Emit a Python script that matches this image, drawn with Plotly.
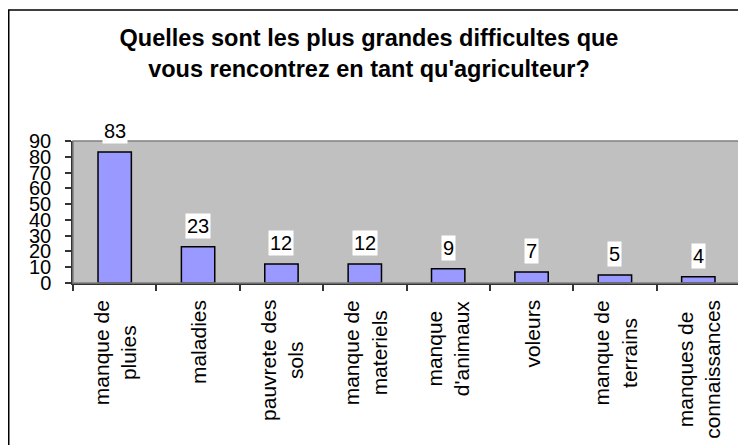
import plotly.graph_objects as go

categories = ["manque de pluies", "maladies", "pauvrete des sols", "manque de materiels",
              "manque d'animaux", "voleurs", "manque de terrains", "manques de connaissances"]
tick_labels = ["manque de<br>pluies", "maladies", "pauvrete des<br>sols", "manque de<br>materiels",
               "manque<br>d'animaux", "voleurs", "manque de<br>terrains", "manques de<br>connaissances"]
values = [83, 23, 12, 12, 9, 7, 5, 4]
title_text = "Quelles sont les plus grandes difficultes que<br>vous rencontrez en tant qu'agriculteur?"

FONT = "Arial, Liberation Sans, sans-serif"
# page body has an 8px margin: figure is drawn from (8, 8)
W, H = 738, 437
ML, MR, MT, MB = 65, 6, 133, 162
PW = W - ML - MR
PH = H - MT - MB

fig = go.Figure()
fig.add_trace(go.Bar(
    x=categories, y=values, width=0.4,
    marker=dict(color="#9999FF", line=dict(color="#000000", width=1.5)),
    hoverinfo="x+y",
))

annotations = []
for c, v in zip(categories, values):
    annotations.append(dict(
        x=c, y=v, xref="x", yref="y", text=str(v), showarrow=False,
        yanchor="bottom", yshift=8, bgcolor="#FFFFFF", borderpad=1,
        font=dict(family=FONT, size=20, color="#000000"),
    ))
for c, t in zip(categories, tick_labels):
    annotations.append(dict(
        x=c, y=0, xref="x", yref="paper", text=t, showarrow=False,
        textangle=-90, yanchor="top", xanchor="center", yshift=-15, align="center",
        font=dict(family=FONT, size=21, color="#000000"),
    ))

shapes = [
    # plot-area frame (gray)
    dict(type="rect", xref="paper", yref="paper", x0=0, x1=1, y0=0, y1=1,
         line=dict(color="#808080", width=1.5), layer="above"),
    # outer chart border
    dict(type="rect", xref="paper", yref="paper",
         x0=(0.75 - ML) / PW, x1=(W + 10 - ML) / PW,
         y0=-(MB + 10) / PH, y1=(MT - 2) / PH + 1,
         line=dict(color="#000000", width=1.5), layer="above"),
]

fig.update_layout(
    width=W, height=H,
    margin=dict(l=ML, r=MR, t=MT, b=MB, pad=0),
    paper_bgcolor="#FFFFFF", plot_bgcolor="#C0C0C0",
    showlegend=False,
    title=dict(text="<b>" + title_text + "</b>", x=(369 - 8) / W, xref="container", xanchor="center",
               y=1 - 38 / H, yref="container", yanchor="top",
               font=dict(family=FONT, size=23.5, color="#000000")),
    font=dict(family=FONT, color="#000000"),
    xaxis=dict(type="category", showticklabels=False, tickson="boundaries",
               ticks="outside", ticklen=6, tickcolor="#333333", tickwidth=1.5,
               showline=True, linecolor="#333333", linewidth=1.5, showgrid=False,
               zeroline=False, fixedrange=True),
    yaxis=dict(range=[0, 90], dtick=10, ticks="outside", ticklen=6, tickcolor="#333333",
               tickwidth=1.5, showline=True, linecolor="#333333", linewidth=1.5,
               showgrid=False, zeroline=False, ticklabelstandoff=10,
               tickfont=dict(family=FONT, size=20, color="#000000"), fixedrange=True),
    annotations=annotations,
    shapes=shapes,
)

fig.write_html("out.html")
